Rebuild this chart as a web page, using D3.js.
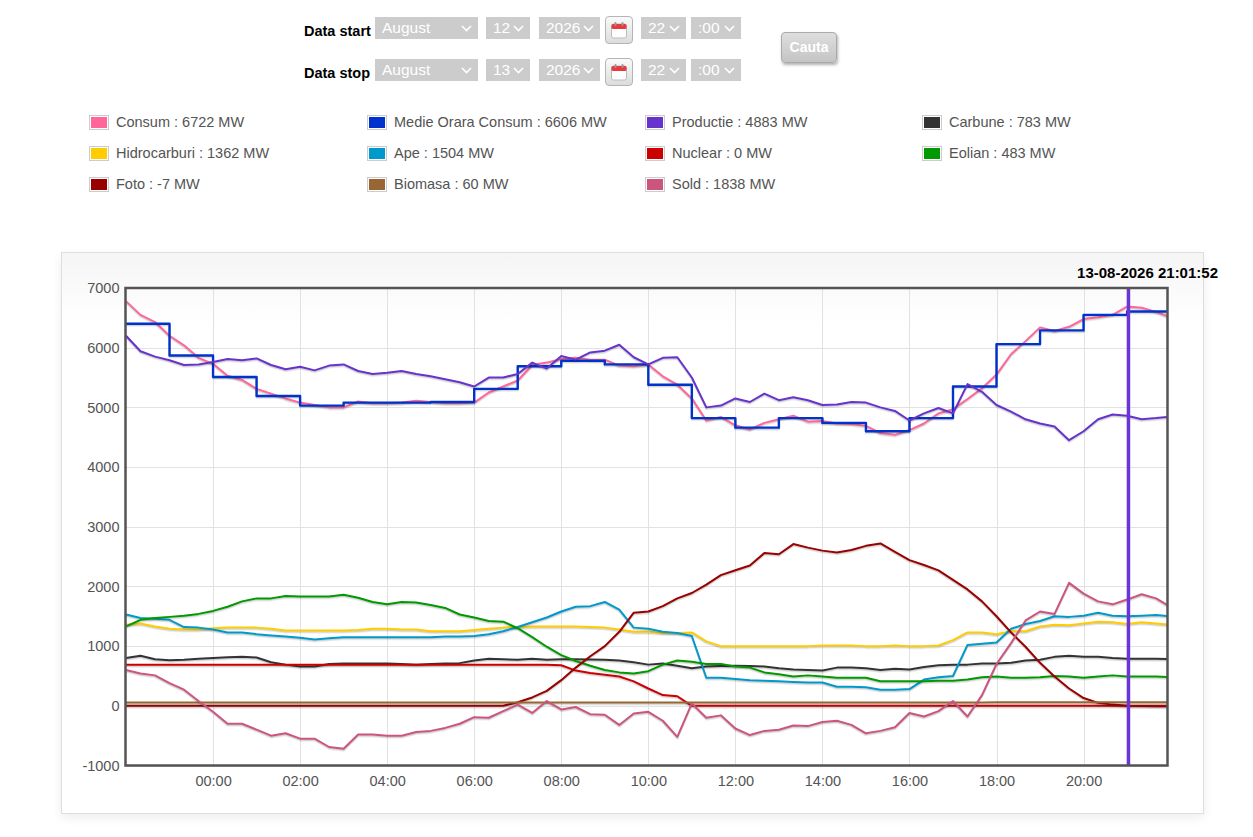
<!DOCTYPE html>
<html>
<head>
<meta charset="utf-8">
<script src="https://cdn.jsdelivr.net/npm/d3@7"></script>
<style>
  body { margin: 0; background: #fff; font-family: "Liberation Sans", Arial, sans-serif; }
  .lbl { position: absolute; font-weight: bold; font-size: 14.5px; color: #000; }
  .sel { position: absolute; height: 22px; background: #cccccc; color: #fff; font-size: 15.5px;
         line-height: 22px; padding-left: 7px; box-sizing: border-box; }
  .sel svg { position: absolute; right: 6px; top: 8px; }
  .cal { position: absolute; width: 28px; height: 28px; box-sizing: border-box; border: 1px solid #b5b5b5;
         border-radius: 4px; background: linear-gradient(#fafafa, #dcdcdc); }
  .cal svg { position: absolute; left: 4px; top: 4px; }
  .btn { position: absolute; left: 781px; top: 32px; width: 56px; height: 31px; box-sizing: border-box;
         border: 1px solid #aaa; border-radius: 4px; background: linear-gradient(#dedede, #c4c4c4);
         box-shadow: 1px 2px 3px rgba(0,0,0,0.3); color: #fff; font-weight: bold; font-size: 14px;
         text-align: center; line-height: 29px; }
  #box { position: absolute; left: 61px; top: 252px; width: 1143px; height: 562px; box-sizing: border-box;
         border: 1px solid #dedede; background: linear-gradient(#f5f5f5, #ffffff 70px);
         box-shadow: 0 4px 10px rgba(0,0,0,0.07); }
  #chart { position: absolute; left: 0; top: 0; }
</style>
</head>
<body>
<div id="form"></div>
<div id="box"></div>
<svg id="chart" width="1253" height="837"></svg>
<script>
// series names / legend values as shown at the cursor
const seriesNames = ["Consum", "Medie Orara Consum", "Productie", "Carbune", "Hidrocarburi", "Ape",
                     "Nuclear", "Eolian", "Foto", "Biomasa", "Sold"];
const legendValues = [6722, 6606, 4883, 783, 1362, 1504, 0, 483, -7, 60, 1838];
const seriesColors = ["#ff6699", "#0033cc", "#6633cc", "#333333", "#ffcc00", "#0099cc",
                      "#cc0000", "#009900", "#990000", "#996633", "#cc5580"];

// samples every 20 minutes from 12-08 22:00, last one at 13-08 21:55
const sampleMinutes = d3.range(0, 1440, 20).concat([1435]);

const consum = [6780,6550,6430,6200,6040,5830,5730,5530,5460,5310,
  5230,5150,5080,5040,5000,5000,5100,5070,5070,5080,
  5110,5090,5070,5070,5080,5250,5350,5450,5710,5750,
  5810,5830,5800,5800,5700,5690,5720,5520,5380,5150,
  4780,4840,4700,4630,4740,4800,4860,4760,4770,4730,
  4720,4690,4570,4540,4620,4730,4900,4970,5140,5320,
  5550,5890,6110,6340,6280,6350,6480,6510,6550,6690,
  6670,6600,6530];

// hourly average, one value per hour starting 22:00
const medieOrara = [6400,5870,5510,5190,5030,5080,5080,5090,5310,5690,5780,5720,
  5380,4820,4660,4820,4740,4600,4820,5350,6060,6290,6550,6606];

const productie = [6200,5940,5850,5790,5710,5720,5760,5810,5790,5820,
  5710,5640,5680,5620,5700,5720,5610,5560,5580,5610,
  5560,5520,5470,5420,5350,5500,5500,5560,5750,5650,
  5860,5800,5920,5950,6050,5840,5720,5830,5840,5500,
  5000,5030,5150,5090,5230,5120,5170,5120,5040,5050,
  5090,5080,5000,4940,4780,4900,4990,4900,5390,5260,
  5040,4930,4800,4730,4680,4450,4600,4800,4880,4860,
  4800,4820,4840];

const carbune = [800,840,780,765,770,790,800,815,820,810,
  730,690,660,660,700,710,710,710,710,700,
  690,700,710,715,760,790,780,770,790,770,
  780,780,775,770,760,730,690,710,670,630,
  660,665,670,665,660,630,610,600,590,640,
  640,630,600,620,610,650,680,690,690,710,
  710,720,760,770,820,840,820,820,800,790,
  790,790,783];

const hidrocarburi = [1360,1380,1330,1290,1280,1280,1300,1310,1310,1310,
  1290,1260,1260,1260,1260,1260,1270,1290,1290,1280,
  1280,1250,1250,1250,1270,1290,1310,1320,1330,1330,
  1330,1330,1320,1310,1280,1240,1240,1220,1220,1230,
  1080,1000,1000,1000,1000,1000,1000,1000,1010,1010,
  1010,1000,1000,1010,1000,1000,1010,1100,1230,1230,
  1200,1250,1250,1330,1360,1350,1380,1410,1400,1370,
  1400,1380,1362];

const ape = [1530,1470,1460,1440,1320,1310,1280,1230,1230,1200,
  1180,1160,1140,1110,1130,1150,1150,1150,1150,1150,
  1150,1150,1160,1160,1170,1200,1250,1320,1400,1480,
  1580,1660,1670,1740,1610,1310,1290,1240,1220,1170,
  470,470,450,430,420,410,400,390,390,320,
  320,310,270,270,280,440,480,500,1020,1040,
  1060,1290,1370,1420,1500,1490,1510,1560,1510,1500,
  1510,1520,1504];

const nuclear = [690,690,690,690,690,690,690,690,690,690,
  690,690,690,690,690,690,690,690,690,690,
  690,690,690,690,690,690,690,690,690,690,
  680,590,550,520,490,410,290,180,160,0,
  0,0,0,0,0,0,0,0,0,0,
  0,0,0,0,0,0,0,0,0,0,
  0,0,0,0,0,0,0,0,0,0,
  0,0,0];

const eolian = [1330,1440,1470,1490,1510,1540,1590,1660,1750,1800,
  1800,1840,1830,1830,1830,1860,1810,1740,1700,1740,
  1730,1690,1640,1530,1480,1420,1410,1300,1150,990,
  850,750,670,600,560,540,580,690,760,740,
  700,700,660,640,560,530,490,510,490,470,
  470,470,410,410,410,410,420,420,440,480,
  490,470,470,480,500,490,470,490,510,490,
  490,490,483];

const foto = [0,0,0,0,0,0,0,0,0,0,
  0,0,0,0,0,0,0,0,0,0,
  0,0,0,0,0,0,0,60,140,250,
  430,640,830,1000,1240,1560,1580,1670,1800,1890,
  2030,2190,2270,2350,2560,2540,2710,2650,2600,2570,
  2610,2680,2720,2580,2440,2360,2270,2110,1950,1750,
  1500,1230,990,720,490,290,130,50,20,0,
  -5,-7,-7];

const biomasa = [55,55,55,55,55,55,55,55,55,55,
  55,55,55,55,55,55,55,55,55,55,
  55,55,55,55,55,55,55,55,55,55,
  55,55,55,55,55,55,55,55,55,55,
  55,55,55,55,55,55,55,55,55,55,
  55,55,55,55,55,55,55,55,55,55,
  60,60,60,60,60,60,60,60,60,60,
  60,60,60];

const sold = [600,540,510,380,270,80,-100,-300,-300,-400,
  -500,-460,-550,-550,-690,-720,-480,-480,-500,-500,
  -440,-420,-370,-300,-190,-200,-90,20,-120,80,
  -60,-20,-140,-150,-320,-130,-100,-250,-520,40,
  -200,-160,-380,-490,-420,-400,-330,-340,-270,-250,
  -320,-460,-420,-360,-120,-180,-90,80,-180,180,
  700,1050,1430,1580,1540,2060,1880,1750,1700,1780,
  1870,1800,1690];

const yTickValues = [-1000, 0, 1000, 2000, 3000, 4000, 5000, 6000, 7000];
const xTickHours = [0, 2, 4, 6, 8, 10, 12, 14, 16, 18, 20];
const cursorTime = new Date(2026, 7, 13, 21, 1, 52);
const cursorLabel = "13-08-2026 21:01:52";

// ---- form at the top ----
const months = ["August", "August"], days = ["12", "13"], years = ["2026", "2026"];
const hoursSel = ["22", "22"], minsSel = [":00", ":00"];
const form = d3.select("#form");
const chevron = '<svg width="11" height="7"><polyline points="1,1 5.5,5.5 10,1" fill="none" stroke="#fff" stroke-width="1.6"/></svg>';
const calIcon = '<svg width="18" height="18"><rect x="1.5" y="3" width="15" height="14" rx="2" fill="#fff" stroke="#bbb"/>' +
  '<rect x="1.5" y="3" width="15" height="5" rx="1.5" fill="#e8393e"/>' +
  '<rect x="4.5" y="1" width="2" height="4" rx="1" fill="#999"/><rect x="11.5" y="1" width="2" height="4" rx="1" fill="#999"/></svg>';

["Data start", "Data stop"].forEach((label, r) => {
  const rowTop = r === 0 ? 17 : 59;
  form.append("div").attr("class", "lbl").style("left", "304px").style("top", (rowTop + 6) + "px").text(label);
  [[375, 103, months[r]], [486, 44, days[r]], [539, 61, years[r]], [641, 45, hoursSel[r]], [691, 50, minsSel[r]]]
    .forEach(([lx, w, txt]) => {
      form.append("div").attr("class", "sel")
        .style("left", lx + "px").style("top", rowTop + "px").style("width", w + "px")
        .html(txt + chevron);
    });
  form.append("div").attr("class", "cal").style("left", "605px").style("top", (rowTop - 1) + "px").html(calIcon);
});
form.append("div").attr("class", "btn").text("Cauta");

// ---- chart ----
const svg = d3.select("#chart");
const font = '"Liberation Sans", Arial, sans-serif';

// legend
const legX = [89, 367, 645, 922], legY = [122, 153, 184];
const legend = svg.append("g").attr("class", "legend");
seriesNames.forEach((name, i) => {
  const cx = legX[i % 4], cy = legY[Math.floor(i / 4)];
  const g = legend.append("g").attr("transform", `translate(${cx},${cy})`);
  g.append("rect").attr("x", 0.5).attr("y", -6.5).attr("width", 19).attr("height", 14)
    .attr("fill", "#fff").attr("stroke", "#cccccc");
  g.append("rect").attr("x", 2).attr("y", -5).attr("width", 16).attr("height", 11)
    .attr("fill", seriesColors[i]);
  g.append("text").attr("x", 27).attr("y", 0).attr("dy", "0.36em")
    .attr("font-family", font).attr("font-size", "14.5px").attr("fill", "#545454")
    .text(`${name} : ${legendValues[i]} MW`);
});

const t0 = new Date(2026, 7, 12, 22, 0);
const tEnd = d3.timeMinute.offset(t0, 1435);
const plotLeft = 125.5, plotRight = 1167.5, plotTop = 288, plotBottom = 765.5;

const x = d3.scaleTime().domain([t0, tEnd]).range([126, 1167]);
const y = d3.scaleLinear().domain([-1000, 7000]).range([plotBottom, plotTop]);

const plot = svg.append("g");

// grid
plot.append("g").selectAll("line").data(yTickValues).join("line")
  .attr("x1", plotLeft).attr("x2", plotRight)
  .attr("y1", d => Math.round(y(d)) + 0.5).attr("y2", d => Math.round(y(d)) + 0.5)
  .attr("stroke", "#e2e2e2").attr("stroke-width", 1);
const xTickValues = xTickHours.map(h => new Date(2026, 7, 13, h, 0));
plot.append("g").selectAll("line").data(xTickValues).join("line")
  .attr("x1", d => Math.round(x(d)) + 0.5).attr("x2", d => Math.round(x(d)) + 0.5)
  .attr("y1", plotTop).attr("y2", plotBottom)
  .attr("stroke", "#e2e2e2").attr("stroke-width", 1);

// axes
const yAxis = svg.append("g").attr("transform", `translate(${plotLeft},0)`)
  .call(d3.axisLeft(y).tickValues(yTickValues).tickSize(0).tickPadding(6).tickFormat(d => String(d)));
const xAxis = svg.append("g").attr("transform", `translate(0,${plotBottom})`)
  .call(d3.axisBottom(x).tickValues(xTickValues).tickSize(0).tickPadding(10).tickFormat(d3.timeFormat("%H:%M")));
[yAxis, xAxis].forEach(a => {
  a.select(".domain").remove();
  a.selectAll("text").attr("font-family", font).attr("font-size", "14.5px").attr("fill", "#545454");
});

// clip
svg.append("clipPath").attr("id", "clip").append("rect")
  .attr("x", plotLeft).attr("y", plotTop).attr("width", plotRight - plotLeft).attr("height", plotBottom - plotTop);
const lines = svg.append("g").attr("clip-path", "url(#clip)");

const seriesValues = [consum, null, productie, carbune, hidrocarburi, ape, nuclear, eolian, foto, biomasa, sold];
const line = d3.line().x(d => x(d.t)).y(d => y(d.v));
const stepLine = d3.line().x(d => x(d.t)).y(d => y(d.v)).curve(d3.curveStepAfter);

seriesNames.forEach((name, i) => {
  let pts, gen;
  if (i === 1) {
    pts = medieOrara.map((v, h) => ({ t: d3.timeHour.offset(t0, h), v }));
    pts.push({ t: tEnd, v: medieOrara[medieOrara.length - 1] });
    gen = stepLine;
  } else {
    pts = seriesValues[i].map((v, k) => ({ t: d3.timeMinute.offset(t0, sampleMinutes[k]), v }));
    gen = line;
  }
  const d = gen(pts);
  // flot-like shadow
  lines.append("path").attr("d", d).attr("transform", "translate(0,2)")
    .attr("fill", "none").attr("stroke", "rgba(0,0,0,0.08)").attr("stroke-width", 2)
    .attr("stroke-linejoin", "round");
  lines.append("path").attr("d", d).attr("transform", "translate(0,1)")
    .attr("fill", "none").attr("stroke", "rgba(0,0,0,0.12)").attr("stroke-width", 2)
    .attr("stroke-linejoin", "round");
  lines.append("path").attr("d", d)
    .attr("fill", "none").attr("stroke", seriesColors[i]).attr("stroke-width", i === 1 ? 2.4 : 2)
    .attr("stroke-linejoin", "round");
});

// cursor line
svg.append("line")
  .attr("x1", x(cursorTime)).attr("x2", x(cursorTime))
  .attr("y1", plotTop).attr("y2", plotBottom)
  .attr("stroke", "#6a35d4").attr("stroke-width", 3.5);

// frame
svg.append("rect").attr("x", plotLeft).attr("y", plotTop)
  .attr("width", plotRight - plotLeft).attr("height", plotBottom - plotTop)
  .attr("fill", "none").attr("stroke", "#545454").attr("stroke-width", 2.5);

svg.append("text").attr("x", 1218).attr("y", 278).attr("text-anchor", "end")
  .attr("font-family", font).attr("font-weight", "bold").attr("font-size", "15px").attr("fill", "#000")
  .text(cursorLabel);
</script>
</body>
</html>
